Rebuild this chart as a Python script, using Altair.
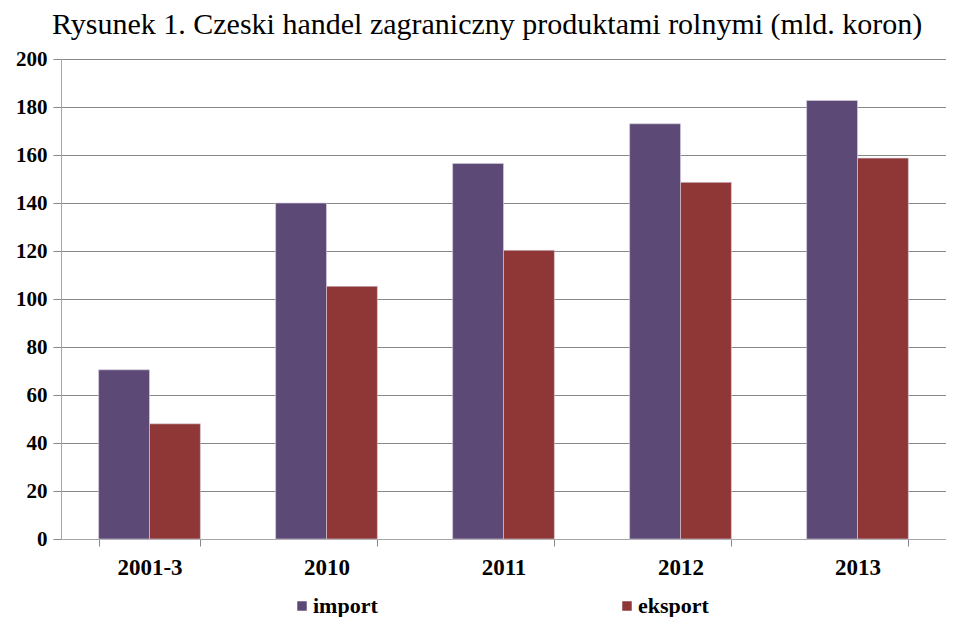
import altair as alt
import pandas as pd

categories = ["2001-3", "2010", "2011", "2012", "2013"]
import_vals = [70.5, 140.0, 156.5, 173.0, 182.7]
eksport_vals = [48.0, 105.3, 120.3, 148.6, 158.7]
series = ["import", "eksport"]
colors = ["#5C4975", "#8F3737"]
y_ticks = [0, 20, 40, 60, 80, 100, 120, 140, 160, 180, 200]

rows = []
for c, i, e in zip(categories, import_vals, eksport_vals):
    rows.append({"kategoria": c, "seria": "import", "wartosc": i})
    rows.append({"kategoria": c, "seria": "eksport", "wartosc": e})
df = pd.DataFrame(rows)

FONT = "Liberation Serif"

chart = alt.Chart(df).mark_bar(stroke="#D8D0E0", strokeWidth=0.6).encode(
    x=alt.X("kategoria:N", sort=categories,
            scale=alt.Scale(paddingInner=0.425, paddingOuter=0.2125),
            axis=alt.Axis(title=None, labelAngle=0, labelFont=FONT, labelFontSize=23,
                          labelFontWeight="bold", labelColor="black", labelPadding=10,
                          tickBand="extent", tickSize=7, tickColor="#888888",
                          domainColor="#A6A6A6", grid=False)),
    xOffset=alt.XOffset("seria:N", sort=series, scale=alt.Scale(paddingInner=0, paddingOuter=0)),
    y=alt.Y("wartosc:Q", scale=alt.Scale(domain=[0, 200], nice=False),
            axis=alt.Axis(title=None, values=y_ticks, labelFont=FONT, labelFontSize=21,
                          labelFontWeight="bold", labelColor="black", labelPadding=6,
                          tickSize=8, tickColor="#888888", domainColor="#A6A6A6",
                          gridColor="#888888", gridWidth=1)),
    color=alt.Color("seria:N", sort=series,
                    scale=alt.Scale(domain=series, range=colors),
                    legend=alt.Legend(title=None, orient="none", legendX=230, legendY=536,
                                      direction="horizontal", symbolType="square",
                                      symbolSize=90, symbolStrokeWidth=0,
                                      labelFont=FONT, labelFontSize=22, labelFontWeight="bold",
                                      labelColor="black", labelOffset=0, columnPadding=238,
                                      labelLimit=300)),
).properties(
    width=885,
    height=480,
    padding={"left": 53, "top": 51, "right": 0, "bottom": 78},
    autosize=alt.AutoSizeParams(type="none"),
    title=alt.TitleParams("Rysunek 1. Czeski handel zagraniczny produktami rolnymi (mld. koron)",
                          font=FONT, fontSize=30, fontWeight="normal", color="black",
                          anchor="start", frame="group", dx=-9, offset=8),
).configure_view(stroke=None)

chart.save("out.html", embed_options={"renderer": "svg", "actions": False})
